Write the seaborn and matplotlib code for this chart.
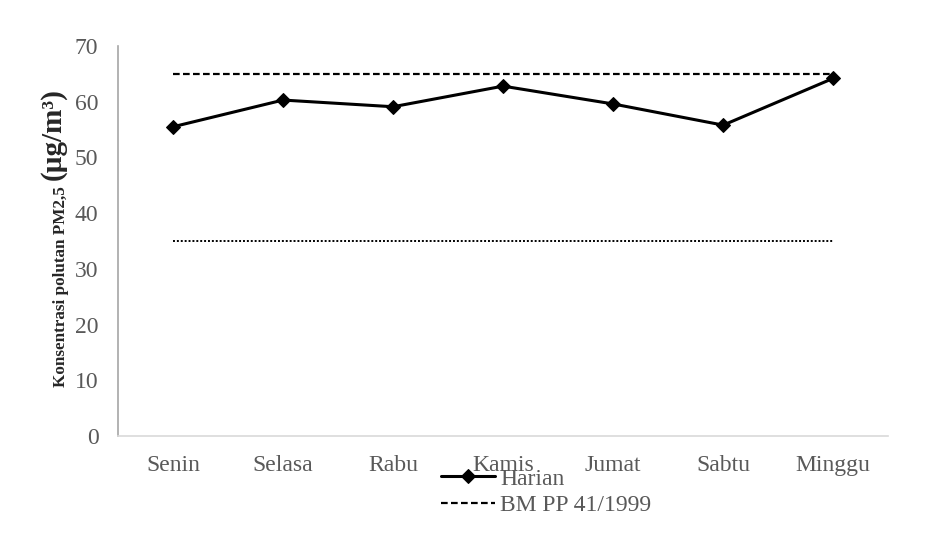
import matplotlib
matplotlib.use("Agg")
import matplotlib.pyplot as plt
import seaborn as sns
import pandas as pd

days = ["Senin", "Selasa", "Rabu", "Kamis", "Jumat", "Sabtu", "Minggu"]
harian = [55.5, 60.3, 59.1, 62.8, 59.6, 55.8, 64.2]
bm_pp = [65, 65, 65, 65, 65, 65, 65]
who = [35, 35, 35, 35, 35, 35, 35]
y_ticks = [0, 10, 20, 30, 40, 50, 60, 70]

sns.set_style("white")
plt.rcParams['font.family'] = ['Liberation Serif', 'DejaVu Serif']

df = pd.DataFrame({"Hari": days, "Harian": harian, "BM": bm_pp, "WHO": who})
df["x"] = range(len(days))

fig = plt.figure(figsize=(9.36, 5.35), dpi=100)
ax = fig.add_axes([0.126, 0.185, 0.823, 0.729])

sns.lineplot(data=df, x="x", y="Harian", ax=ax, color="black", linewidth=2.2,
             marker="D", markersize=7, markeredgecolor="black", label="Harian")
sns.lineplot(data=df, x="x", y="BM", ax=ax, color="black", linewidth=1.6,
             linestyle=(0, (3, 1.5)), label="BM PP 41/1999")
ax.plot(df["x"], df["WHO"], color="black", linewidth=1.4, linestyle=(0, (1, 1)))

ax.set_xlim(-0.5, 6.5)
ax.set_ylim(0, 70)
ax.set_yticks(y_ticks)
ax.set_xticks(range(len(days)))
ax.set_xticklabels(days)
ax.tick_params(axis="both", length=0, labelsize=17, labelcolor="#595959", pad=14)
ax.set_xlabel("")
ax.set_ylabel("")
for s in ["top", "right"]:
    ax.spines[s].set_visible(False)
ax.spines["left"].set_color("#a6a6a6")
ax.spines["bottom"].set_color("#d9d9d9")
ax.spines["left"].set_linewidth(1.2)
ax.spines["bottom"].set_linewidth(1.2)

fig.text(61 / 936, 1 - 287 / 535, "Konsentrasi polutan PM2,5", rotation=90,
         fontsize=12.3, fontweight="bold", ha="center", va="center")
fig.text(53 / 936, 1 - 134 / 535, "(µg/m³)", rotation=90,
         fontsize=21, fontweight="bold", ha="center", va="center")

leg = ax.legend(loc="upper left", bbox_to_anchor=(441 / 936, 1 - 468 / 535),
                bbox_transform=fig.transFigure, frameon=False, fontsize=17,
                handlelength=2.3, handletextpad=0.2, labelspacing=0.2,
                borderpad=0, borderaxespad=0)
for t in leg.get_texts():
    t.set_color("#595959")

fig.savefig("out.png", dpi=100)
